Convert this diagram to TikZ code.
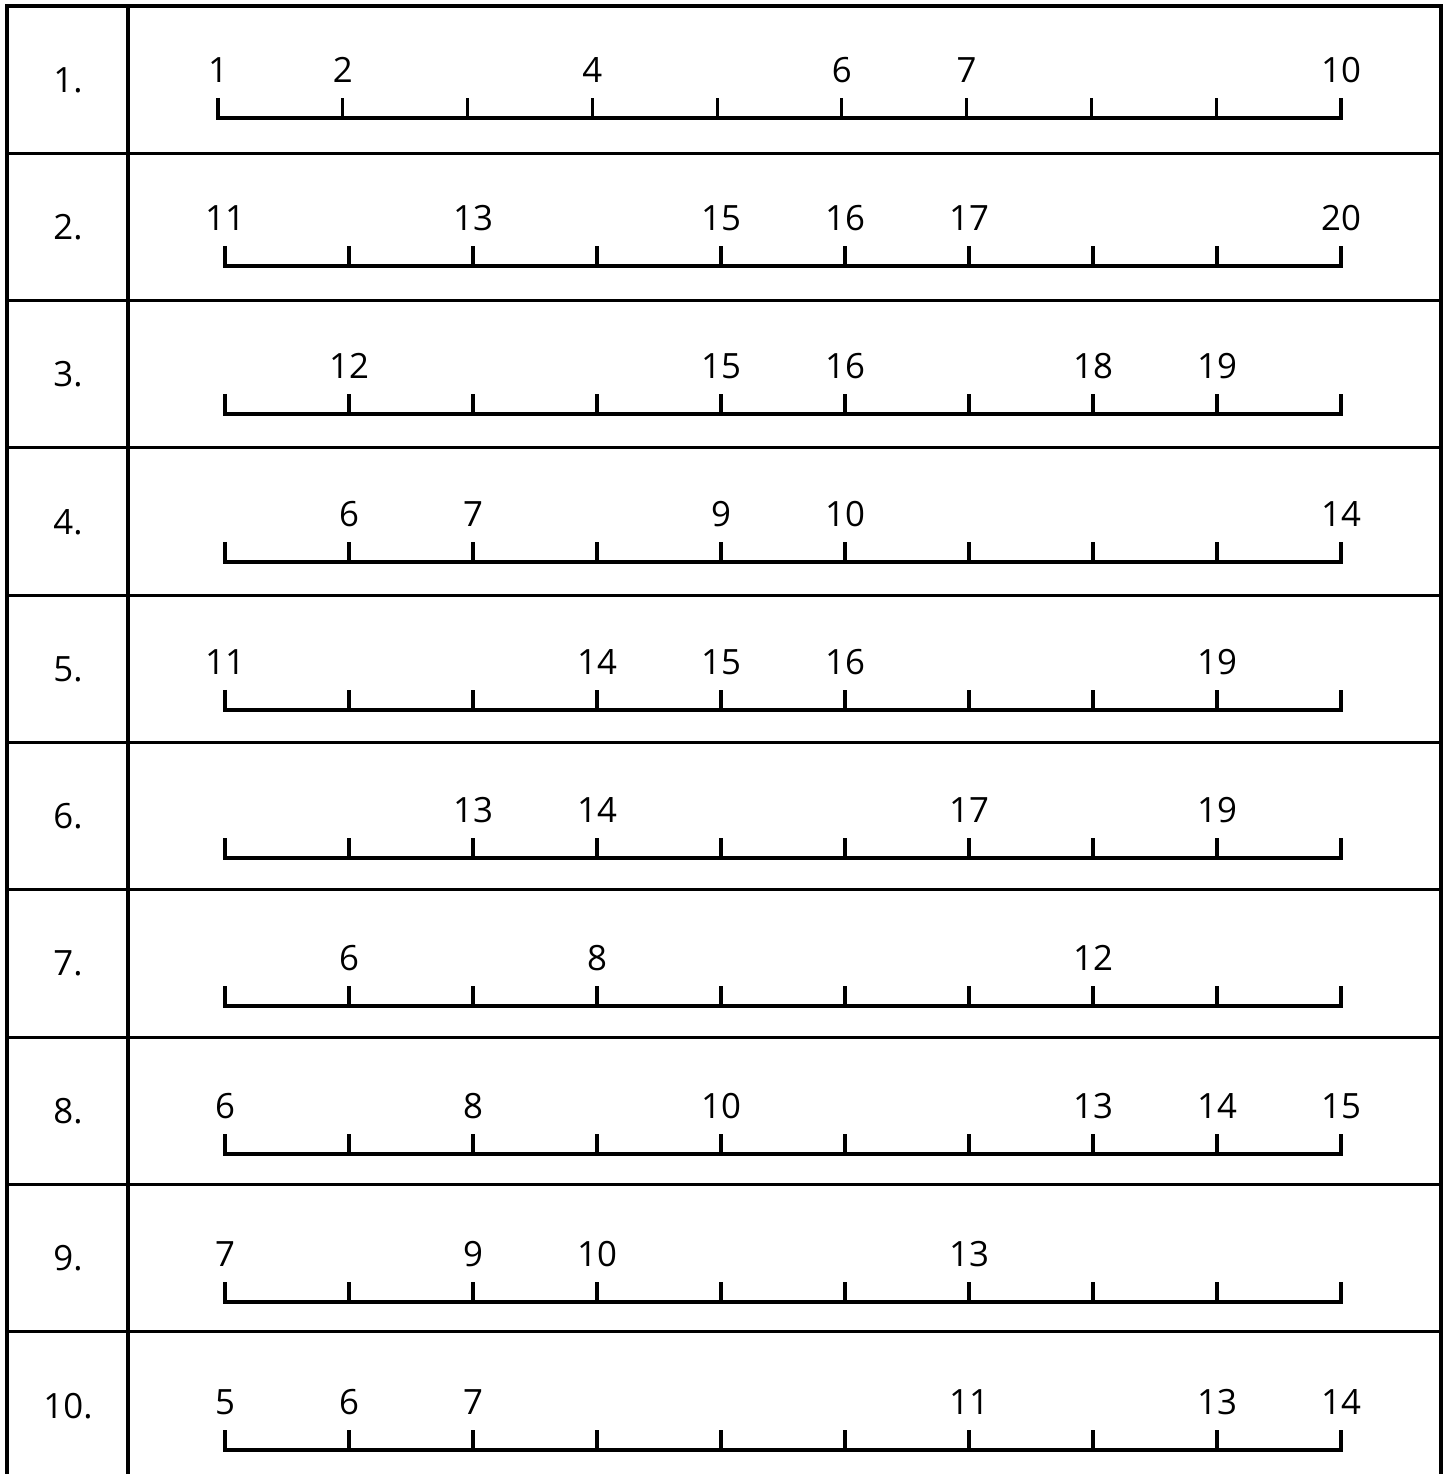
\documentclass[tikz,border=0pt]{standalone}
\usepackage{fontspec}
\setmainfont{Open Sans}
\usepackage{tikz}
\usetikzlibrary{calc}

\begin{document}
\begin{tikzpicture}[x=0.01cm, y=-0.01cm, line width=0.9pt, font=\fontsize{9.9}{12}\selectfont,
  numlab/.style={inner sep=0pt, anchor=center},
  rowlab/.style={inner sep=0pt, anchor=center}]
  \useasboundingbox (0,0) rectangle (1450,1474);
  % table frame
  \draw (7,1474) -- (7,6) -- (1441,6) -- (1441,1474);
  \draw (128,6) -- (128,1474);
  \foreach \k in {1,...,9} \draw (7,{6+147.3*\k}) -- (1441,{6+147.3*\k});
  % number lines: row / first tick / labels (tick index / text)
  \foreach \r/\xs/\labs in {
      1/218/{0/1,1/2,3/4,5/6,6/7,9/10},
      2/225/{0/11,2/13,4/15,5/16,6/17,9/20},
      3/225/{1/12,4/15,5/16,7/18,8/19},
      4/225/{1/6,2/7,4/9,5/10,9/14},
      5/225/{0/11,3/14,4/15,5/16,8/19},
      6/225/{2/13,3/14,6/17,8/19},
      7/225/{1/6,3/8,7/12},
      8/225/{0/6,2/8,4/10,7/13,8/14,9/15},
      9/225/{0/7,2/9,3/10,6/13},
      10/225/{0/5,1/6,2/7,6/11,8/13,9/14}} {
    \pgfmathsetmacro{\ly}{118+148*(\r-1)}
    \pgfmathsetmacro{\dx}{(1341-\xs)/9}
    \node[rowlab] (n\r) at (68, {6+147.3*(\r-1)+74}) {\r.};
    \draw (\xs,\ly-20) -- (\xs,\ly) -- (1341,\ly) -- (1341,\ly-20);
    \foreach \i in {1,...,8} \draw ({\xs+\i*\dx},\ly) -- ({\xs+\i*\dx},\ly-20);
    \foreach \i/\t in \labs
      \node[numlab] (l\r-\i) at ({\xs+\i*\dx}, \ly-48) {\t};
  }
\end{tikzpicture}
\end{document}
